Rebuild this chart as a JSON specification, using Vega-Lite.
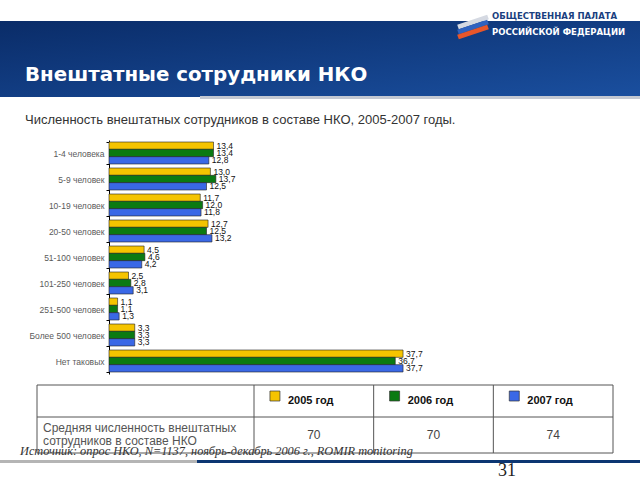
{
  "$schema": "https://vega.github.io/schema/vega-lite/v6.json",
  "width": 640,
  "height": 480,
  "padding": 0,
  "autosize": {"type": "none"},
  "background": "white",
  "config": {
    "view": {"stroke": null},
    "locale": {"number": {"decimal": ",", "thousands": " ", "grouping": [3], "currency": ["", ""]}}
  },
  "datasets": {
    "bars": [
      {"category": "1-4 человека", "year": "2005", "value": 13.4},
      {"category": "1-4 человека", "year": "2006", "value": 13.4},
      {"category": "1-4 человека", "year": "2007", "value": 12.8},
      {"category": "5-9 человек", "year": "2005", "value": 13.0},
      {"category": "5-9 человек", "year": "2006", "value": 13.7},
      {"category": "5-9 человек", "year": "2007", "value": 12.5},
      {"category": "10-19 человек", "year": "2005", "value": 11.7},
      {"category": "10-19 человек", "year": "2006", "value": 12.0},
      {"category": "10-19 человек", "year": "2007", "value": 11.8},
      {"category": "20-50 человек", "year": "2005", "value": 12.7},
      {"category": "20-50 человек", "year": "2006", "value": 12.5},
      {"category": "20-50 человек", "year": "2007", "value": 13.2},
      {"category": "51-100 человек", "year": "2005", "value": 4.5},
      {"category": "51-100 человек", "year": "2006", "value": 4.6},
      {"category": "51-100 человек", "year": "2007", "value": 4.2},
      {"category": "101-250 человек", "year": "2005", "value": 2.5},
      {"category": "101-250 человек", "year": "2006", "value": 2.8},
      {"category": "101-250 человек", "year": "2007", "value": 3.1},
      {"category": "251-500 человек", "year": "2005", "value": 1.1},
      {"category": "251-500 человек", "year": "2006", "value": 1.1},
      {"category": "251-500 человек", "year": "2007", "value": 1.3},
      {"category": "Более 500 человек", "year": "2005", "value": 3.3},
      {"category": "Более 500 человек", "year": "2006", "value": 3.3},
      {"category": "Более 500 человек", "year": "2007", "value": 3.3},
      {"category": "Нет таковых", "year": "2005", "value": 37.7},
      {"category": "Нет таковых", "year": "2006", "value": 36.7},
      {"category": "Нет таковых", "year": "2007", "value": 37.7}
    ],
    "table": [
      {"year": "2005", "label": "2005 год", "avg": 70},
      {"year": "2006", "label": "2006 год", "avg": 70},
      {"year": "2007", "label": "2007 год", "avg": 74}
    ]
  },
  "resolve": {"scale": {"x": "independent", "y": "independent"}},
  "layer": [
    {
      "data": {"values": [{}]},
      "mark": {"type": "rect", "x": 0, "x2": 640, "y": 21, "y2": 97,
        "color": {"gradient": "linear", "x1": 0, "y1": 0, "x2": 1, "y2": 1,
          "stops": [{"offset": 0, "color": "#0a2c68"}, {"offset": 1, "color": "#1a4f9f"}]}},
      "encoding": {}
    },
    {
      "data": {"values": [{}]},
      "mark": {"type": "rect", "x": 200, "x2": 640, "y": 96, "y2": 99, "color": "#c3c8d2"},
      "encoding": {}
    },
    {
      "data": {"values": [{}]},
      "mark": {"type": "rule", "color": "#d5d9e2", "strokeWidth": 5},
      "encoding": {"x": {"value": 458}, "y": {"value": 27}, "x2": {"value": 488}, "y2": {"value": 17}}
    },
    {
      "data": {"values": [{}]},
      "mark": {"type": "rule", "color": "#2f62c0", "strokeWidth": 5},
      "encoding": {"x": {"value": 458}, "y": {"value": 32}, "x2": {"value": 488}, "y2": {"value": 22}}
    },
    {
      "data": {"values": [{}]},
      "mark": {"type": "rule", "color": "#e8562a", "strokeWidth": 5},
      "encoding": {"x": {"value": 458}, "y": {"value": 37}, "x2": {"value": 488}, "y2": {"value": 27}}
    },
    {
      "data": {"values": [{}]},
      "mark": {"type": "text", "x": 492, "y": 16, "align": "left", "baseline": "middle",
        "text": "ОБЩЕСТВЕННАЯ ПАЛАТА", "font": "DejaVu Sans", "fontWeight": "bold", "fontSize": 8.5, "color": "#1a3f80"},
      "encoding": {}
    },
    {
      "data": {"values": [{}]},
      "mark": {"type": "text", "x": 492, "y": 32, "align": "left", "baseline": "middle",
        "text": "РОССИЙСКОЙ ФЕДЕРАЦИИ", "font": "DejaVu Sans", "fontWeight": "bold", "fontSize": 8.5, "color": "white"},
      "encoding": {}
    },
    {
      "data": {"values": [{}]},
      "mark": {"type": "text", "x": 25, "y": 75, "align": "left", "baseline": "middle",
        "text": "Внештатные сотрудники НКО", "font": "DejaVu Sans", "fontWeight": "bold", "fontSize": 19.8, "color": "white"},
      "encoding": {}
    },
    {
      "data": {"values": [{}]},
      "mark": {"type": "text", "x": 25, "y": 120, "align": "left", "baseline": "middle",
        "text": "Численность внештатных сотрудников в составе НКО, 2005-2007 годы.", "font": "Liberation Sans", "fontSize": 13, "color": "#333333"},
      "encoding": {}
    },
    {
      "data": {"name": "bars"},
      "mark": {"type": "bar", "stroke": "#222222", "strokeWidth": 0.6},
      "encoding": {
        "y": {"field": "category", "type": "nominal",
          "scale": {"domain": ["1-4 человека", "5-9 человек", "10-19 человек", "20-50 человек", "51-100 человек", "101-250 человек", "251-500 человек", "Более 500 человек", "Нет таковых"],
            "range": [140, 374], "paddingInner": 0.154, "paddingOuter": 0.077},
          "axis": {"orient": "left", "offset": -109, "title": null, "domainColor": "#000000", "tickColor": "#000000",
            "tickBand": "extent", "tickSize": 3, "labelFontSize": 8.5, "labelColor": "#5a5a5a", "labelFont": "Liberation Sans", "labelPadding": 2}},
        "yOffset": {"field": "year", "type": "nominal", "scale": {"domain": ["2005", "2006", "2007"]}},
        "x": {"field": "value", "type": "quantitative", "scale": {"domain": [0, 40], "range": [109, 421]}, "axis": null},
        "color": {"field": "year", "type": "nominal", "scale": {"domain": ["2005", "2006", "2007"], "range": ["#f5c400", "#0b7a12", "#3a68e6"]}, "legend": null}
      }
    },
    {
      "data": {"name": "bars"},
      "mark": {"type": "text", "align": "left", "baseline": "middle", "dx": 3, "fontSize": 8.5, "font": "Liberation Sans", "color": "#111111"},
      "encoding": {
        "y": {"field": "category", "type": "nominal",
          "scale": {"domain": ["1-4 человека", "5-9 человек", "10-19 человек", "20-50 человек", "51-100 человек", "101-250 человек", "251-500 человек", "Более 500 человек", "Нет таковых"],
            "range": [140, 374], "paddingInner": 0.154, "paddingOuter": 0.077},
          "axis": null},
        "yOffset": {"field": "year", "type": "nominal", "scale": {"domain": ["2005", "2006", "2007"]}},
        "x": {"field": "value", "type": "quantitative", "scale": {"domain": [0, 40], "range": [109, 421]}, "axis": null},
        "text": {"field": "value", "type": "quantitative", "format": ".1f"}
      }
    },
    {
      "data": {"values": [{}]},
      "mark": {"type": "rect", "x": 37, "x2": 613, "y": 385, "y2": 453, "filled": false, "stroke": "#555555", "strokeWidth": 1},
      "encoding": {}
    },
    {
      "data": {"values": [{}]},
      "mark": {"type": "rule", "color": "#555555", "strokeWidth": 1},
      "encoding": {"x": {"value": 37}, "x2": {"value": 613}, "y": {"value": 417}}
    },
    {
      "data": {"name": "table"},
      "mark": {"type": "rule", "color": "#555555", "strokeWidth": 1},
      "encoding": {
        "x": {"field": "year", "type": "nominal", "bandPosition": 0,
          "scale": {"type": "band", "domain": ["2005", "2006", "2007"], "range": [254, 613], "paddingInner": 0, "paddingOuter": 0}, "axis": null},
        "y": {"value": 385},
        "y2": {"value": 453}
      }
    },
    {
      "data": {"name": "table"},
      "mark": {"type": "square", "size": 100, "filled": true, "opacity": 1, "stroke": "#333333", "strokeWidth": 0.7, "y": 396},
      "encoding": {
        "x": {"field": "year", "type": "nominal", "bandPosition": 0.175,
          "scale": {"type": "band", "domain": ["2005", "2006", "2007"], "range": [254, 613], "paddingInner": 0, "paddingOuter": 0}, "axis": null},
        "color": {"field": "year", "type": "nominal", "scale": {"domain": ["2005", "2006", "2007"], "range": ["#f5c400", "#0b7a12", "#3a68e6"]}, "legend": null}
      }
    },
    {
      "data": {"name": "table"},
      "mark": {"type": "text", "align": "left", "baseline": "middle", "y": 401, "font": "Liberation Sans", "fontWeight": "bold", "fontSize": 11, "color": "#111111"},
      "encoding": {
        "x": {"field": "year", "type": "nominal", "bandPosition": 0.284,
          "scale": {"type": "band", "domain": ["2005", "2006", "2007"], "range": [254, 613], "paddingInner": 0, "paddingOuter": 0}, "axis": null},
        "text": {"field": "label", "type": "nominal"}
      }
    },
    {
      "data": {"name": "table"},
      "mark": {"type": "text", "align": "center", "baseline": "middle", "y": 435, "font": "Liberation Sans", "fontSize": 12, "color": "#444444"},
      "encoding": {
        "x": {"field": "year", "type": "nominal", "bandPosition": 0.5,
          "scale": {"type": "band", "domain": ["2005", "2006", "2007"], "range": [254, 613], "paddingInner": 0, "paddingOuter": 0}, "axis": null},
        "text": {"field": "avg", "type": "quantitative"}
      }
    },
    {
      "data": {"values": [{}]},
      "mark": {"type": "text", "x": 43, "y": 428, "align": "left", "baseline": "middle", "lineHeight": 13,
        "text": ["Средняя численность внештатных", "сотрудников в составе НКО"], "font": "Liberation Sans", "fontSize": 12, "color": "#555555"},
      "encoding": {}
    },
    {
      "data": {"values": [{}]},
      "mark": {"type": "text", "x": 20, "y": 451, "align": "left", "baseline": "middle",
        "text": "Источник: опрос НКО, N=1137, ноябрь-декабрь 2006 г., ROMIR monitoring", "font": "Liberation Serif", "fontStyle": "italic", "fontSize": 12.3, "color": "#333333"},
      "encoding": {}
    },
    {
      "data": {"values": [{}]},
      "mark": {"type": "rect", "x": 0, "x2": 197, "y": 460, "y2": 463, "color": "#b5b5b5"},
      "encoding": {}
    },
    {
      "data": {"values": [{}]},
      "mark": {"type": "rect", "x": 197, "x2": 640, "y": 460, "y2": 463, "color": "#0c3672"},
      "encoding": {}
    },
    {
      "data": {"values": [{}]},
      "mark": {"type": "text", "x": 507, "y": 471, "align": "center", "baseline": "middle",
        "text": "31", "font": "Liberation Serif", "fontSize": 18, "color": "#222222"},
      "encoding": {}
    }
  ]
}
